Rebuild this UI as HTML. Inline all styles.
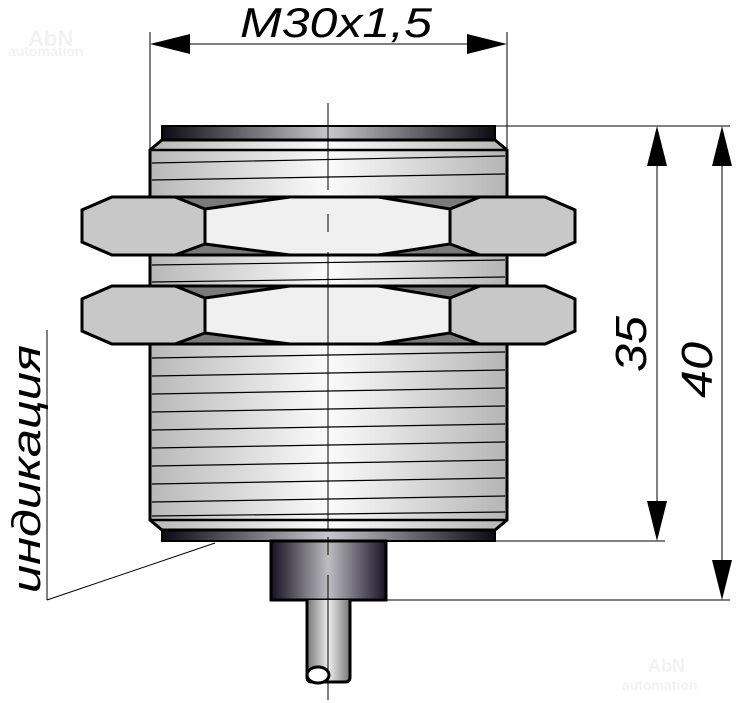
<!DOCTYPE html>
<html><head><meta charset="utf-8"><style>html,body{margin:0;padding:0;background:#fff}svg{display:block}</style></head>
<body>
<svg width="740" height="703" viewBox="0 0 740 703" xmlns="http://www.w3.org/2000/svg">
<defs>
<linearGradient id="body" x1="0" x2="1" y1="0" y2="0">
<stop offset="0" stop-color="#b8b8b8"/><stop offset="0.5" stop-color="#fbfbfb"/><stop offset="1" stop-color="#b5b5b5"/></linearGradient>
<linearGradient id="dark" x1="0" x2="1" y1="0" y2="0">
<stop offset="0" stop-color="#0c0a12"/><stop offset="0.5" stop-color="#c8c8cc"/><stop offset="1" stop-color="#0c0a12"/></linearGradient>
<linearGradient id="conn" x1="0" x2="1" y1="0" y2="0">
<stop offset="0" stop-color="#151020"/><stop offset="0.5" stop-color="#bdbdc2"/><stop offset="1" stop-color="#1a1428"/></linearGradient>
<linearGradient id="cable" x1="0" x2="1" y1="0" y2="0">
<stop offset="0" stop-color="#777"/><stop offset="0.5" stop-color="#eee"/><stop offset="1" stop-color="#777"/></linearGradient>
</defs>
<g font-family="Liberation Sans, sans-serif" fill="#f2f2f2" font-weight="bold">
<text x="28" y="46" font-size="22">AbN</text><text x="8" y="56" font-size="14">automation</text>
<text x="648" y="672" font-size="18">AbN</text><text x="622" y="690" font-size="14">automation</text>
</g>
<g stroke="#000" stroke-width="1" fill="none">
<line x1="150" y1="32" x2="150" y2="150"/><line x1="507" y1="32" x2="507" y2="150"/>
<line x1="165" y1="44" x2="492" y2="44"/>
<line x1="495" y1="126" x2="730" y2="126"/>
<line x1="495" y1="541" x2="665" y2="541"/>
<line x1="386" y1="600" x2="730" y2="600"/>
<line x1="657" y1="140" x2="657" y2="527"/>
<line x1="722" y1="140" x2="722" y2="586"/>
<line x1="215" y1="543" x2="47" y2="600"/>
<line x1="47" y1="330" x2="47" y2="600"/>
</g>
<g fill="#000">
<polygon points="150,44 190,34 190,54"/><polygon points="507,44 467,34 467,54"/>
<polygon points="657,126 647,166 667,166"/><polygon points="657,541 647,501 667,501"/>
<polygon points="722,126 712,166 732,166"/><polygon points="722,600 712,560 732,560"/>
</g>
<text x="240" y="37" font-family="Liberation Sans, sans-serif" font-style="italic" font-size="42" textLength="192" lengthAdjust="spacingAndGlyphs">M30x1,5</text>
<text font-family="Liberation Sans, sans-serif" font-style="italic" font-size="44" transform="translate(646,372) rotate(-90)" textLength="56" lengthAdjust="spacingAndGlyphs">35</text>
<text font-family="Liberation Sans, sans-serif" font-style="italic" font-size="44" transform="translate(712,398) rotate(-90)" textLength="56" lengthAdjust="spacingAndGlyphs">40</text>
<text font-family="Liberation Sans, 'Noto Sans CJK SC', sans-serif" font-style="italic" font-size="40" transform="translate(40,593) rotate(-90)" textLength="248" lengthAdjust="spacingAndGlyphs">индикация</text>
<rect x="162" y="126" width="333" height="14" fill="url(#dark)" stroke="#000" stroke-width="2"/>
<rect x="162" y="530" width="333" height="11" fill="url(#dark)" stroke="#000" stroke-width="2"/>
<path d="M162,140 L495,140 L507,150 L507,520 L495,530 L162,530 L150,520 L150,150 Z" fill="url(#body)" stroke="#000" stroke-width="3"/>
<g stroke="#000" stroke-width="1.2">
<line x1="150" y1="150" x2="507" y2="150" stroke-width="2.5"/>
<line x1="150" y1="520" x2="507" y2="520" stroke-width="2.5"/>
<line x1="152" y1="163" x2="505" y2="156"/><line x1="152" y1="180" x2="505" y2="174"/>
<line x1="152" y1="265" x2="505" y2="260"/><line x1="152" y1="282" x2="505" y2="277"/>
<line x1="152" y1="358" x2="505" y2="352"/><line x1="152" y1="376" x2="505" y2="370"/>
<line x1="152" y1="394" x2="505" y2="388"/><line x1="152" y1="412" x2="505" y2="406"/>
<line x1="152" y1="430" x2="505" y2="424"/><line x1="152" y1="448" x2="505" y2="442"/>
<line x1="152" y1="466" x2="505" y2="460"/><line x1="152" y1="484" x2="505" y2="478"/>
<line x1="152" y1="502" x2="505" y2="496"/><line x1="152" y1="516" x2="505" y2="512"/>
</g>
<g id="nut">
<path d="M82,210 L112,197 L545,197 L575,210 L575,242 L545,255 L112,255 L82,242 Z" fill="#7a7a7a" stroke="#000" stroke-width="3"/>
<path d="M82,210 L112,197 L175,197 L205,209 L205,244 L175,255 L112,255 L82,242 Z" fill="#c8c8c8" stroke="#000" stroke-width="3"/>
<path d="M450,209 L480,197 L545,197 L575,210 L575,242 L545,255 L480,255 L450,244 Z" fill="#c8c8c8" stroke="#000" stroke-width="3"/>
<path d="M205,209 L290,197 L378,197 L450,209 L450,244 L378,255 L290,255 L205,244 Z" fill="#f0f0f0" stroke="#000" stroke-width="3"/>
</g>
<use href="#nut" transform="translate(0,89)"/>
<rect x="271" y="541" width="115" height="59" fill="url(#conn)" stroke="#000" stroke-width="3"/>
<path d="M307,600 L307,677 Q307,682 312,682 L345,682 Q350,682 350,677 L350,600" fill="url(#cable)" stroke="#000" stroke-width="3"/>
<ellipse cx="318" cy="675" rx="11" ry="8" fill="#fff" stroke="#000" stroke-width="3"/>
<g stroke="#000" stroke-width="1">
<line x1="328" y1="103" x2="328" y2="190"/><line x1="328" y1="214" x2="328" y2="232"/>
<line x1="328" y1="252" x2="328" y2="530"/><line x1="328" y1="537" x2="328" y2="555"/>
<line x1="328" y1="575" x2="328" y2="700"/>
</g>
</svg>
</body></html>
